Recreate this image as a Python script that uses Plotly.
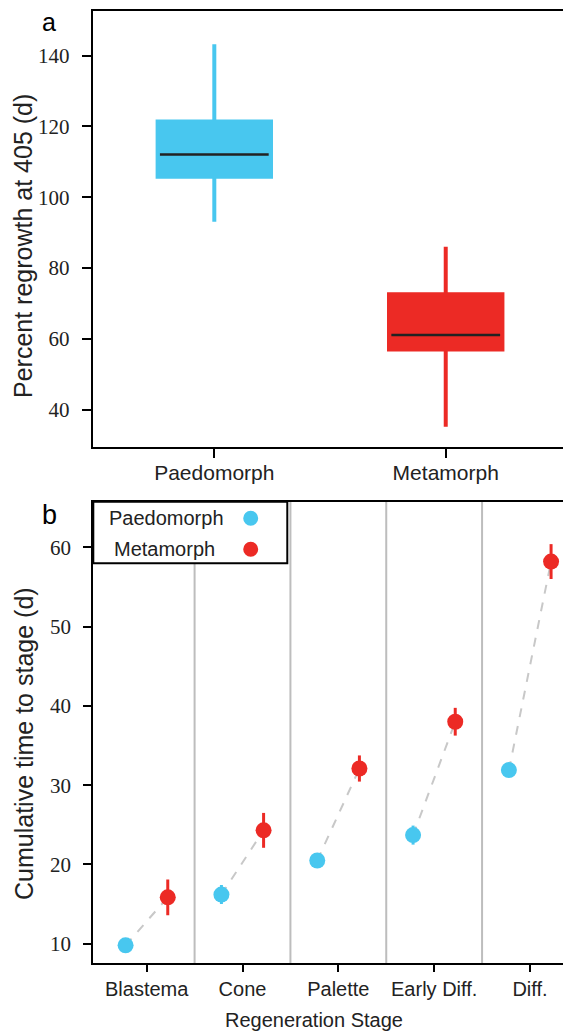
import plotly.graph_objects as go

# ---------------- Panel a data (box summary) ----------------
groups = ["Paedomorph", "Metamorph"]
lower_whisker = [93.1, 35.2]
q1_vals = [105.8, 57.0]
median_vals = [112.1, 61.1]
q3_vals = [121.4, 72.6]
upper_whisker = [143.2, 86.0]

# ---------------- Panel b data (means ± error) ----------------
stages = ["Blastema", "Cone", "Palette", "Early Diff.", "Diff."]
paedo_mean = [9.8, 16.2, 20.5, 23.7, 31.9]
paedo_err = [0.5, 1.2, 0.9, 1.2, 0.5]
meta_mean = [15.85, 24.3, 32.1, 38.0, 58.2]
meta_err = [2.25, 2.2, 1.65, 1.75, 2.2]

yticks_a = [40, 60, 80, 100, 120, 140]
yticks_b = [10, 20, 30, 40, 50, 60]

CYAN = "#48C7EF"
RED = "#EC2A25"
box_colors = [CYAN, RED]
TXT = "#222222"
SANS = "Liberation Sans, Arial, sans-serif"
SERIF = "Liberation Serif, Times New Roman, serif"

# page body has an 8px margin: figure is placed at (8, 8) in the window
OX, OY = 8, 8
W, H = 571 - OX, 1033 - OY
def px(x):
    return (x - OX) / W
def py(y):
    return 1 - (y - OY) / H

fig = go.Figure()

# Panel a boxes
for i, g in enumerate(groups):
    fig.add_trace(go.Box(
        x=[g], q1=[q1_vals[i]], median=[median_vals[i]], q3=[q3_vals[i]],
        lowerfence=[lower_whisker[i]], upperfence=[upper_whisker[i]],
        fillcolor=box_colors[i], line=dict(color=box_colors[i], width=4),
        whiskerwidth=0, width=0.49, boxpoints=False, showlegend=False,
        xaxis="x", yaxis="y"))
for i, g in enumerate(groups):
    m = median_vals[i]
    fig.add_trace(go.Box(
        x=[g], q1=[m], median=[m], q3=[m], lowerfence=[m], upperfence=[m],
        fillcolor="rgba(0,0,0,0)", line=dict(color=TXT, width=2.5),
        whiskerwidth=0, width=0.47, boxpoints=False, showlegend=False,
        xaxis="x", yaxis="y"))

# Panel b
OFF = 0.22
conn_x, conn_y = [], []
for i in range(len(stages)):
    conn_x += [i - OFF, i + OFF, None]
    conn_y += [paedo_mean[i], meta_mean[i], None]
fig.add_trace(go.Scatter(x=conn_x, y=conn_y, mode="lines",
                         line=dict(color="#C8C8C8", width=2, dash="dash"),
                         showlegend=False, xaxis="x2", yaxis="y2"))
idx = list(range(len(stages)))
fig.add_trace(go.Scatter(
    x=[i - OFF for i in idx], y=paedo_mean, mode="markers",
    marker=dict(color=CYAN, size=16),
    error_y=dict(type="data", array=paedo_err, color=CYAN, thickness=3, width=0),
    name="Paedomorph", showlegend=False, xaxis="x2", yaxis="y2"))
fig.add_trace(go.Scatter(
    x=[i + OFF for i in idx], y=meta_mean, mode="markers",
    marker=dict(color=RED, size=16),
    error_y=dict(type="data", array=meta_err, color=RED, thickness=3, width=0),
    name="Metamorph", showlegend=False, xaxis="x2", yaxis="y2"))

axis_common = dict(showline=True, linecolor="black", linewidth=2,
                   ticks="outside", tickwidth=2, tickcolor="black",
                   showgrid=False, zeroline=False)

shapes = []
# stage separators
for i in range(len(stages) - 1):
    shapes.append(dict(type="line", xref="x2", yref="y2 domain",
                       x0=i + 0.5, x1=i + 0.5, y0=0, y1=1,
                       line=dict(color="#BDBDBD", width=2), layer="below"))
# legend box
shapes.append(dict(type="rect", xref="paper", yref="paper",
                   x0=px(93.3), x1=px(287.3), y0=py(563.3), y1=py(501.7),
                   line=dict(color="black", width=2), fillcolor="white", layer="above"))
leg_rows = [518.3, 549.3]
for col, yy in zip(box_colors, leg_rows):
    shapes.append(dict(type="circle", xref="paper", yref="paper",
                       xsizemode="pixel", ysizemode="pixel",
                       xanchor=px(250.7), yanchor=py(yy),
                       x0=-7.5, x1=7.5, y0=-7.5, y1=7.5,
                       line=dict(width=0), fillcolor=col, layer="above"))

annotations = [
    dict(text="a", x=px(40), y=py(22), xref="paper", yref="paper",
         xanchor="left", yanchor="middle", showarrow=False,
         font=dict(family=SANS, size=25, color="black")),
    dict(text="b", x=px(40), y=py(515), xref="paper", yref="paper",
         xanchor="left", yanchor="middle", showarrow=False,
         font=dict(family=SANS, size=27, color="black")),
    dict(text="Percent regrowth at 405 (d)", x=px(23), y=py(246), xref="paper", yref="paper",
         xanchor="center", yanchor="middle", textangle=-90, showarrow=False,
         font=dict(family=SANS, size=25, color=TXT)),
    dict(text="Cumulative time to stage (d)", x=px(24), y=py(744), xref="paper", yref="paper",
         xanchor="center", yanchor="middle", textangle=-90, showarrow=False,
         font=dict(family=SANS, size=25, color=TXT)),
    dict(text="Regeneration Stage", x=px(314), y=py(1020), xref="paper", yref="paper",
         xanchor="center", yanchor="middle", showarrow=False,
         font=dict(family=SANS, size=20, color=TXT)),
]
for name, yy, xc in zip(groups, leg_rows, [166, 164.7]):
    annotations.append(dict(text=name, x=px(xc), y=py(yy), xref="paper", yref="paper",
                            xanchor="center", yanchor="middle", showarrow=False,
                            font=dict(family=SANS, size=20, color=TXT)))

fig.update_layout(
    width=W, height=H, margin=dict(l=0, r=0, t=0, b=0),
    paper_bgcolor="white", plot_bgcolor="white",
    boxmode="overlay", showlegend=False,
    xaxis=dict(domain=[px(92.7), px(570)], anchor="y", type="category",
               range=[-0.5255, 1.537], mirror=True, ticklen=9, ticklabelstandoff=-3,
               tickfont=dict(family=SANS, size=21, color=TXT), **axis_common),
    yaxis=dict(domain=[py(446.7), py(10.7)], anchor="x", range=[29.55, 152.7],
               tickvals=yticks_a, mirror=True, ticklen=9, ticklabelstandoff=8,
               tickfont=dict(family=SERIF, size=21, color=TXT), **axis_common),
    xaxis2=dict(domain=[px(93.3), 1.0], anchor="y2", range=[-0.557, 4.428],
                tickvals=idx, ticktext=stages, mirror=True, ticklen=7,
                tickfont=dict(family=SANS, size=20, color=TXT), **axis_common),
    yaxis2=dict(domain=[py(963), py(501.7)], anchor="x2", range=[7.57, 65.75],
                tickvals=yticks_b, ticklen=8, ticklabelstandoff=8,
                tickfont=dict(family=SERIF, size=21, color=TXT), **axis_common),
    shapes=shapes, annotations=annotations,
)

fig.write_html("out.html")
